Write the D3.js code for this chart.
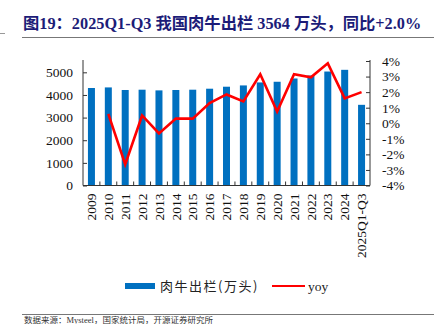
<!DOCTYPE html>
<html><head><meta charset="utf-8">
<script src="https://cdn.jsdelivr.net/npm/d3@7"></script>
<style>
body{margin:0;background:#fff;}
svg text{font-family:"Liberation Serif","Times New Roman","Noto Sans CJK SC",serif;}
</style></head>
<body><svg id="c" width="440" height="324"></svg>
<script>
const categories = ["2009","2010","2011","2012","2013","2014","2015","2016","2017","2018","2019","2020","2021","2022","2023","2024","2025Q1-Q3"];
const stock = [4307,4333,4219,4232,4202,4219,4232,4276,4364,4421,4553,4583,4728,4860,5035,5110,3564];
const yoy = [null,0.6,-2.65,0.5,-0.65,0.3,0.3,1.3,1.85,1.4,3.15,0.75,3.15,2.95,3.85,1.6,2.0];
const leftTicks = [0,1000,2000,3000,4000,5000];
const rightTicks = [-4,-3,-2,-1,0,1,2,3,4];
const title = "图19：2025Q1-Q3 我国肉牛出栏 3564 万头，同比+2.0%";
const legendLabels = ["肉牛出栏(万头)","yoy"];
const source = "数据来源：Mysteel，国家统计局，开源证券研究所";

const svg = d3.select("#c");
const L = 83, R = 370, T = 61, B = 185.5;

// title
svg.append("text").attr("x",23).attr("y",29).attr("fill","#1c1c78")
  .attr("font-weight","bold").attr("font-size",16.3).text(title);
svg.append("line").attr("x1",22).attr("x2",434).attr("y1",37.5).attr("y2",37.5)
  .attr("stroke","#777").attr("stroke-width",1.2);

const x = d3.scaleBand().domain(categories).range([L,R]);
const yL = d3.scaleLinear().domain([0,5500]).range([B,T]);
const yR = d3.scaleLinear().domain([-4,4]).range([B,T]);

// bars
svg.append("g").selectAll("rect").data(categories).join("rect")
  .attr("x",d=>x(d)+x.bandwidth()/2-3.5).attr("width",7)
  .attr("y",(d,i)=>yL(stock[i])).attr("height",(d,i)=>B-yL(stock[i]))
  .attr("fill","#0070c0");

// line
const pts = categories.map((c,i)=>[c,yoy[i]]).filter(d=>d[1]!==null);
svg.append("path").datum(pts)
  .attr("d",d3.line().x(d=>x(d[0])+x.bandwidth()/2).y(d=>yR(d[1])))
  .attr("fill","none").attr("stroke","#ff0000").attr("stroke-width",2.6).attr("stroke-linejoin","miter");

// axes
const axL = svg.append("g").attr("transform",`translate(${L},0)`)
  .call(d3.axisLeft(yL).tickValues(leftTicks).tickFormat(d3.format("d")).tickSizeInner(-4).tickSizeOuter(0).tickPadding(12));
const axR = svg.append("g").attr("transform",`translate(${R},0)`)
  .call(d3.axisRight(yR).tickValues(rightTicks).tickFormat(d=>d+"%").tickSizeInner(-4).tickSizeOuter(0).tickPadding(12));
[axL,axR].forEach(a=>{
  a.select(".domain").attr("stroke","#333").attr("d",`M0,${T-1}V${B}`);
  a.selectAll("line").attr("stroke","#333");
  a.selectAll("text").attr("font-size",13.5).attr("fill","#111")
    .style("font-family",'"Liberation Serif","Times New Roman",serif');
});
axL.selectAll("text").attr("x",-10);
axR.selectAll("text").attr("x",12).attr("text-anchor","start");

const axB = svg.append("g").attr("transform",`translate(0,${B})`);
axB.append("line").attr("x1",L).attr("x2",R).attr("stroke","#333");
axB.selectAll("line.t").data(categories.slice(1)).join("line").attr("class","t")
  .attr("x1",d=>x(d)).attr("x2",d=>x(d)).attr("y1",0).attr("y2",-4).attr("stroke","#333");
axB.selectAll("text").data(categories).join("text")
  .attr("transform",d=>`translate(${x(d)+x.bandwidth()/2+4.7},8) rotate(-90)`)
  .attr("text-anchor","end").attr("font-size",13.5).attr("fill","#111")
  .style("font-family",'"Liberation Serif","Times New Roman",serif').text(d=>d);

// legend
svg.append("rect").attr("x",125).attr("y",283).attr("width",30).attr("height",6).attr("fill","#0070c0");
svg.append("text").attr("x",160).attr("y",291).attr("font-size",13).attr("fill","#222")
  .style("font-family",'"Noto Sans CJK SC",sans-serif').attr("letter-spacing",1.5).text(legendLabels[0]);
svg.append("line").attr("x1",272).attr("x2",305).attr("y1",286).attr("y2",286).attr("stroke","#ff0000").attr("stroke-width",2.2);
svg.append("text").attr("x",308).attr("y",291).attr("font-size",13.5).attr("fill","#222").text(legendLabels[1]);

// bottom
svg.append("line").attr("x1",22).attr("x2",434).attr("y1",314.5).attr("y2",314.5).attr("stroke","#777").attr("stroke-width",1.2);
svg.append("text").attr("x",24).attr("y",322.5).attr("font-size",8.5).attr("fill","#333").text(source);
svg.append("line").attr("x1",0).attr("x2",5).attr("y1",33.5).attr("y2",33.5).attr("stroke","#999");
</script></body></html>
